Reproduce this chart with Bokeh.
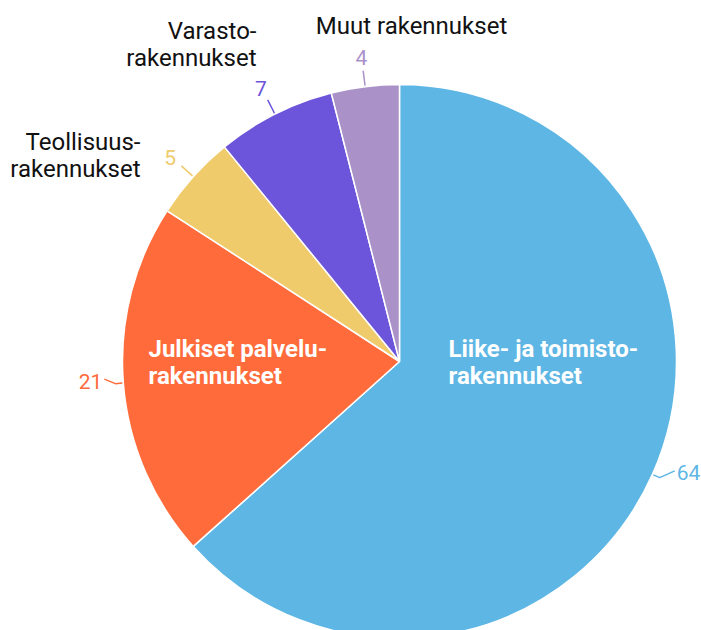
import math
from bokeh.plotting import figure
from bokeh.models import Range1d, ColumnDataSource
from bokeh.core.properties import value
from bokeh.embed import file_html
from bokeh.resources import INLINE

# ---- data ----
categories = ["Liike- ja toimistorakennukset", "Julkiset palvelurakennukset",
              "Teollisuusrakennukset", "Varastorakennukset", "Muut rakennukset"]
values = [64, 21, 5, 7, 4]
colors = ["#5EB6E4", "#FF6B3B", "#EFCB6C", "#6D55DB", "#AA92C9"]
label_lines = [["Liike- ja toimisto-", "rakennukset"],
               ["Julkiset palvelu-", "rakennukset"],
               ["Teollisuus-", "rakennukset"],
               ["Varasto-", "rakennukset"],
               ["Muut rakennukset"]]

# ---- layout (page pixel coords -> data coords: x = px, y = H - py) ----
W, H = 701, 630
def Y(py):
    return H - py

cx, cy, R = 399, Y(361), 277

p = figure(width=W, height=H, output_backend="svg", toolbar_location=None,
           x_range=Range1d(0, W), y_range=Range1d(0, H),
           min_border=0, background_fill_color="white")
p.axis.visible = False
p.grid.visible = False
p.outline_line_color = None

total = sum(values)
starts, ends, mids = [], [], []
cum = 0
for v in values:
    a0 = math.pi / 2 - 2 * math.pi * cum / total
    cum += v
    a1 = math.pi / 2 - 2 * math.pi * cum / total
    starts.append(a0)
    ends.append(a1)
    mids.append((a0 + a1) / 2)

src = ColumnDataSource(dict(x=[cx] * len(values), y=[cy] * len(values),
                            start=starts, end=ends, color=colors))
p.wedge(x="x", y="y", radius=R, start_angle="start", end_angle="end",
        direction="clock", fill_color="color", line_color="white",
        line_width=1.5, source=src)

# leader lines and value labels (side labels bend towards a horizontal label)
for v, m, c in zip(values, mids, colors):
    ux, uy = math.cos(m), math.sin(m)
    x0, y0 = cx + (R + 1) * ux, cy + (R + 1) * uy
    if abs(ux) > 0.85:
        side = 1 if ux > 0 else -1
        x1, y1 = cx + (R + 8) * ux, cy + (R + 8) * uy
        x2, y2 = x1 + (15 if side > 0 else 11) * side, y0 + 4
        p.line([x0, x1, x2], [y0, y1, y2], line_color=c, line_width=1.5)
        p.text([x2 + 2 * side], [y2 - 2], text=[str(v)], text_color=c,
               text_font=value("Roboto"), text_font_size="21px",
               text_align="left" if side > 0 else "right",
               text_baseline="middle")
    else:
        x1, y1 = cx + (R + 16) * ux, cy + (R + 16) * uy
        p.line([x0, x1], [y0, y1], line_color=c, line_width=1.5)
        lx, ly = cx + (R + 31) * ux, cy + (R + 29) * uy
        p.text([lx], [ly], text=[str(v)], text_color=c,
               text_font=value("Roboto"), text_font_size="21px",
               text_align="center", text_baseline="middle")

# category labels: (x, first line page y, align, color, style)
lab_pos = [(448, 348, "left", "white", "bold"),
           (148, 348, "left", "white", "bold"),
           (140, 141, "right", "#111111", "normal"),
           (256, 30, "right", "#111111", "normal"),
           (411, 25, "center", "#111111", "normal")]
for lines, (lx, by, al, col, st) in zip(label_lines, lab_pos):
    for i, t in enumerate(lines):
        p.text([lx], [Y(by + 27.5 * i)], text=[t], text_color=col,
               text_font=value("Roboto"), text_font_size="24px",
               text_font_style=st, text_align=al, text_baseline="middle")

open("out.html", "w").write(file_html(p, INLINE))
